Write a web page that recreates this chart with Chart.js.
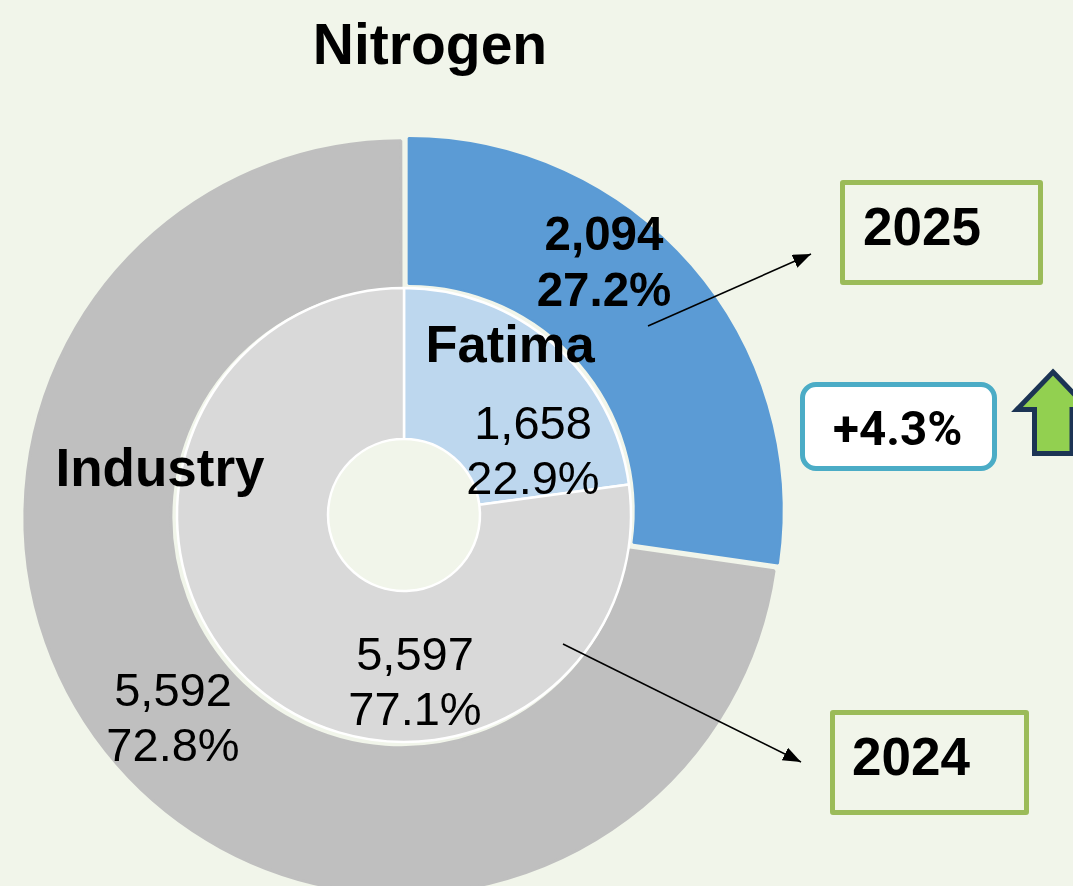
<!DOCTYPE html>
<html><head><meta charset="utf-8">
<style>
html,body{margin:0;padding:0;background:#f1f5ea;width:1073px;height:886px;overflow:hidden;}
#wrap{position:relative;width:1073px;height:886px;overflow:hidden;font-family:"Liberation Sans",Arial,sans-serif;color:#000;}
#c{position:absolute;left:0;top:0;}
.t{position:absolute;white-space:nowrap;text-align:center;transform:translate(-50%,-50%);line-height:1;}
.box{position:absolute;box-sizing:border-box;border:5px solid #9bbb59;border-radius:3px;font-weight:bold;font-size:53px;}
.box span{position:absolute;line-height:1;}
svg{position:absolute;left:0;top:0;}
</style></head><body>
<div id="wrap">
<canvas id="c" width="808" height="1030" style="width:808px;height:1030px"></canvas>
<svg width="1073" height="886" viewBox="0 0 1073 886">
<defs>
<marker id="ah" markerUnits="userSpaceOnUse" markerWidth="20" markerHeight="16" refX="18" refY="7" orient="auto"><path d="M0 0L18 7L0 14Z" fill="#000"/></marker>
</defs>
<line x1="648" y1="326" x2="811" y2="254" stroke="#000" stroke-width="1.6" marker-end="url(#ah)"/>
<line x1="563" y1="644" x2="801" y2="762" stroke="#000" stroke-width="1.6" marker-end="url(#ah)"/>
<path d="M1053 372L1089 409.5L1072 409.5L1072 453.5L1034.5 453.5L1034.5 409.5L1017 409.5Z" fill="#92d050" stroke="#1c3454" stroke-width="5" stroke-linejoin="miter" stroke-miterlimit="10"/>
</svg>
<div class="t" style="left:430px;top:44px;font-size:57px;font-weight:bold">Nitrogen</div>
<div class="t" id="l0" style="left:604px;top:234px;font-size:47.5px;font-weight:bold"></div>
<div class="t" id="l0b" style="left:604px;top:290px;font-size:47.5px;font-weight:bold"></div>
<div class="t" style="left:510px;top:344px;font-size:52.5px;font-weight:bold">Fatima</div>
<div class="t" id="l1" style="left:533px;top:422px;font-size:47px"></div>
<div class="t" id="l1b" style="left:533px;top:477px;font-size:47px"></div>
<div class="t" style="left:160px;top:467px;font-size:53px;font-weight:bold">Industry</div>
<div class="t" id="l2" style="left:173px;top:689px;font-size:47px"></div>
<div class="t" id="l2b" style="left:173px;top:744px;font-size:47px"></div>
<div class="t" id="l3" style="left:415px;top:653px;font-size:47px"></div>
<div class="t" id="l3b" style="left:415px;top:708px;font-size:47px"></div>
<div class="box" style="left:840px;top:180px;width:203px;height:105px"><span style="left:18px;top:15px">2025</span></div>
<div class="box" style="left:830px;top:710px;width:199px;height:105px"><span style="left:17px;top:15px">2024</span></div>
<div class="box" style="left:800px;top:382px;width:197px;height:89px;border-color:#4bacc6;border-radius:16px;background:#fff;font-size:47.5px;font-family:Roboto,sans-serif"><span style="left:28px;top:19px">+4.3%</span></div>
</div>
<script src="https://cdn.jsdelivr.net/npm/chart.js@4/dist/chart.umd.min.js"></script>
<script>
const categories = ["Fatima","Industry"];
const values2025 = [2094,5592];
const shares2025 = ["27.2%","72.8%"];
const values2024 = [1658,5597];
const shares2024 = ["22.9%","77.1%"];
const fmt = v => v.toLocaleString("en-US");
new Chart(document.getElementById("c"),{
  type:"doughnut",
  data:{labels:categories,datasets:[
    {label:"2025",data:values2025,backgroundColor:["#5b9bd5","#bfbfbf"],borderColor:["#5b9bd5","#bfbfbf"],borderWidth:[2,3],offset:[24.6,14],weight:146,order:2},
    {label:"2024",data:values2024,backgroundColor:["#bdd7ee","#d9d9d9"],borderColor:"#ffffff",borderWidth:2.5,weight:151,order:1}
  ]},
  options:{responsive:false,animation:false,radius:373,cutout:"20.375%",rotation:0,circumference:360,
    layout:{padding:0},plugins:{legend:{display:false},tooltip:{enabled:false},title:{display:false}}}
});
document.getElementById("l0").textContent=fmt(values2025[0]);
document.getElementById("l0b").textContent=shares2025[0];
document.getElementById("l1").textContent=fmt(values2024[0]);
document.getElementById("l1b").textContent=shares2024[0];
document.getElementById("l2").textContent=fmt(values2025[1]);
document.getElementById("l2b").textContent=shares2025[1];
document.getElementById("l3").textContent=fmt(values2024[1]);
document.getElementById("l3b").textContent=shares2024[1];
</script>
</body></html>
